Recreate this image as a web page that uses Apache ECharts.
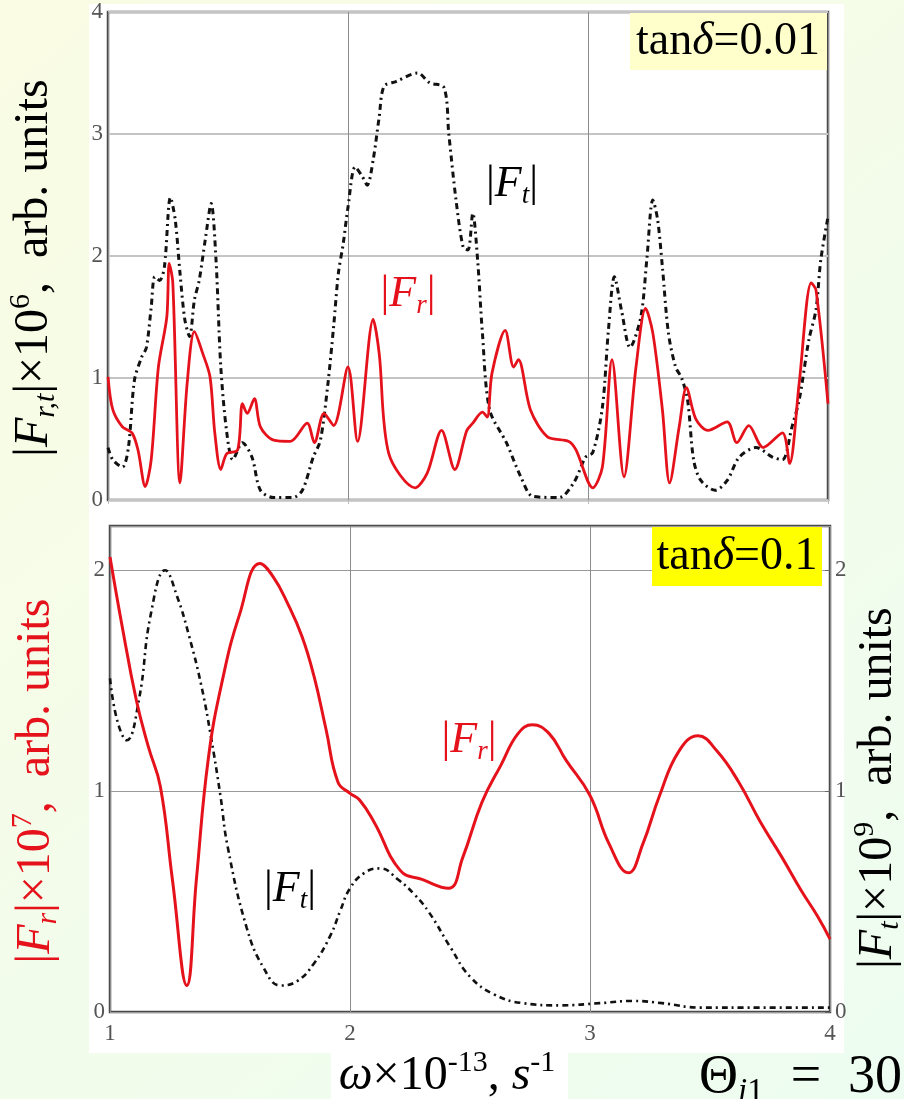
<!DOCTYPE html>
<html>
<head>
<meta charset="utf-8">
<script src="https://cdn.jsdelivr.net/npm/echarts@6/dist/echarts.min.js"></script>
<style>
  html, body { margin: 0; padding: 0; }
  #chart { width: 904px; height: 1099px; }
</style>
</head>
<body>
<div id="chart"></div>
<script>
// Frequency axis: omega x 10^-13, s^-1
const omegaRange = [1, 4];
const omegaTicks = [1, 2, 3, 4];
const topTicks = [0, 1, 2, 3, 4];
const bottomTicks = [0, 1, 2];

// tan(delta) = 0.01 : |F_r| (red) and |F_t| (black), both x 10^6
const frLowX = [1.0,1.02,1.06,1.1,1.125,1.155,1.18,1.21,1.245,1.255,1.27,1.3,1.33,1.36,1.395,1.425,1.445,1.47,1.495,1.54,1.56,1.58,1.61,1.635,1.69,1.76,1.83,1.86,1.9,1.94,2.0,2.04,2.105,2.13,2.17,2.28,2.33,2.39,2.445,2.495,2.52,2.56,2.58,2.6,2.655,2.69,2.71,2.76,2.83,2.92,2.95,3.02,3.06,3.1,3.15,3.2,3.24,3.27,3.31,3.34,3.38,3.41,3.45,3.5,3.58,3.62,3.67,3.73,3.81,3.84,3.88,3.93,3.95,4.0];
const frLowY = [1.01,0.74,0.6,0.55,0.41,0.11,0.33,1.09,1.5,1.94,1.78,0.14,0.96,1.38,1.2,1.01,0.55,0.25,0.38,0.41,0.79,0.71,0.83,0.6,0.49,0.48,0.63,0.47,0.71,0.61,1.09,0.48,1.48,1.2,0.38,0.1,0.22,0.57,0.25,0.57,0.63,0.72,0.68,1.04,1.39,1.09,1.15,0.74,0.52,0.48,0.41,0.1,0.27,1.15,0.19,1.09,1.57,1.37,0.74,0.14,0.6,0.92,0.66,0.57,0.64,0.47,0.61,0.43,0.55,0.3,0.96,1.78,1.72,0.79];

const ftLowX = [1.0,1.02,1.06,1.085,1.11,1.14,1.16,1.18,1.195,1.215,1.235,1.26,1.28,1.3,1.32,1.34,1.36,1.38,1.405,1.43,1.45,1.47,1.495,1.52,1.56,1.6,1.635,1.69,1.77,1.81,1.855,1.885,1.915,1.94,1.96,1.98,2.0,2.03,2.06,2.08,2.105,2.13,2.15,2.2,2.29,2.34,2.4,2.42,2.45,2.48,2.5,2.52,2.54,2.56,2.59,2.66,2.72,2.77,2.88,2.94,2.99,3.02,3.06,3.085,3.11,3.14,3.175,3.22,3.245,3.27,3.29,3.31,3.335,3.365,3.39,3.415,3.44,3.47,3.53,3.58,3.63,3.7,3.77,3.81,3.85,3.88,3.92,3.95,3.97,4.0];
const ftLowY = [0.43,0.33,0.27,0.43,0.98,1.17,1.25,1.58,1.83,1.8,1.91,2.48,2.3,1.86,1.48,1.34,1.64,1.8,2.13,2.43,1.97,1.09,0.55,0.33,0.47,0.35,0.08,0.02,0.02,0.08,0.35,0.49,0.93,1.42,1.86,2.1,2.4,2.73,2.65,2.58,2.79,3.14,3.39,3.43,3.5,3.42,3.38,3.0,2.46,2.07,2.05,2.35,1.97,1.37,0.74,0.47,0.19,0.03,0.02,0.14,0.35,0.39,0.76,1.39,1.83,1.55,1.25,1.5,1.97,2.46,2.3,1.91,1.37,1.09,1.0,0.82,0.33,0.16,0.08,0.16,0.35,0.43,0.35,0.33,0.6,0.82,1.31,1.56,1.97,2.32];

// tan(delta) = 0.1 : |F_r| x 10^7 (left axis), |F_t| x 10^9 (right axis)
const frHighX = [1.0,1.05,1.11,1.16,1.21,1.26,1.32,1.36,1.41,1.47,1.54,1.625,1.68,1.74,1.8,1.85,1.9,1.95,2.0,2.04,2.1,2.21,2.3,2.41,2.47,2.55,2.63,2.7,2.76,2.83,2.9,3.0,3.08,3.16,3.22,3.29,3.37,3.45,3.53,3.62,3.71,3.8,3.88,3.95,4.0];
const frHighY = [2.06,1.75,1.41,1.2,1.02,0.6,0.12,0.6,1.15,1.51,1.8,2.03,1.97,1.85,1.7,1.52,1.28,1.04,0.99,0.96,0.86,0.64,0.6,0.56,0.7,0.95,1.12,1.26,1.3,1.26,1.14,0.98,0.76,0.63,0.76,0.98,1.18,1.25,1.18,1.04,0.86,0.7,0.55,0.43,0.33];

const ftHighX = [1.0,1.03,1.07,1.12,1.17,1.23,1.28,1.33,1.38,1.42,1.46,1.49,1.57,1.64,1.71,1.78,1.85,1.92,1.96,2.0,2.06,2.125,2.2,2.27,2.33,2.42,2.5,2.6,2.72,2.88,3.04,3.18,3.3,3.46,3.7,4.0];
const ftHighY = [1.51,1.32,1.23,1.41,1.8,2.0,1.88,1.7,1.48,1.25,0.98,0.75,0.38,0.2,0.12,0.14,0.22,0.35,0.46,0.56,0.63,0.65,0.6,0.53,0.45,0.29,0.16,0.08,0.04,0.03,0.04,0.05,0.04,0.02,0.02,0.02];

const pairs = (xs, ys) => xs.map((x, i) => [x, ys[i]]);

const SERIF = 'Liberation Serif';
const RED = '#e5121c';
const INK = '#111111';

// rich-text styles: b = upright, i = italic, s = italic subscript, p = superscript, u = upright subscript
function richSet(size, color) {
  const small = Math.round(size * 0.62);
  return {
    b: { fontFamily: SERIF, fontSize: size, color: color, lineHeight: Math.round(size * 1.15) },
    i: { fontFamily: SERIF, fontSize: size, color: color, fontStyle: 'italic', lineHeight: Math.round(size * 1.15) },
    s: { fontFamily: SERIF, fontSize: small, color: color, fontStyle: 'italic', lineHeight: small, verticalAlign: 'bottom' },
    u: { fontFamily: SERIF, fontSize: small, color: color, lineHeight: small, verticalAlign: 'bottom' },
    p: { fontFamily: SERIF, fontSize: small, color: color, lineHeight: small, verticalAlign: 'top' }
  };
}

function label(text, x, y, size, color, opts, align) {
  const a = align || 'center';
  return Object.assign({
    type: 'text', x: x, y: y, z: 50,
    style: {
      text: text, rich: richSet(size, color), fill: color,
      font: size + 'px "' + SERIF + '"',
      align: a, verticalAlign: 'middle',
      textAlign: a, textVerticalAlign: 'middle'
    }
  }, opts || {});
}

// axis tick labels
function tickLabel(margin, list, extra) {
  return Object.assign({
    margin: margin,
    fontFamily: SERIF,
    fontSize: 23,
    color: '#555555',
    formatter: v => (list.includes(v) ? String(v) : '')
  }, extra || {});
}

const chart = echarts.init(document.getElementById('chart'), null, { renderer: 'canvas' });

chart.setOption({
  animation: false,
  backgroundColor: {
    type: 'linear', x: 0, y: 0, x2: 1, y2: 1,
    colorStops: [{ offset: 0, color: '#fafce3' }, { offset: 1, color: '#edfdf1' }]
  },
  grid: [
    { left: 108, top: 12, width: 720, height: 488, show: true, backgroundColor: '#ffffff', borderColor: '#4a4a4a', borderWidth: 2.5 },
    { left: 110, top: 526, width: 720, height: 486, show: true, backgroundColor: '#ffffff', borderColor: '#4a4a4a', borderWidth: 2.5 }
  ],
  xAxis: [
    {
      gridIndex: 0, type: 'value', min: omegaRange[0], max: omegaRange[1], interval: 1,
      axisLine: { show: false },
      axisTick: { show: true, length: 4, lineStyle: { color: '#bbbbbb' } },
      axisLabel: { show: false },
      splitLine: { show: true, lineStyle: { color: '#8c8c8c', width: 1 } }
    },
    {
      gridIndex: 1, type: 'value', min: omegaRange[0], max: omegaRange[1], interval: 1,
      axisLine: { show: false }, axisTick: { show: false },
      axisLabel: tickLabel(10, omegaTicks),
      splitLine: { show: true, lineStyle: { color: '#8c8c8c', width: 1 } }
    }
  ],
  yAxis: [
    {
      gridIndex: 0, type: 'value', min: topTicks[0], max: topTicks[topTicks.length - 1], interval: 1,
      axisLine: { show: false }, axisTick: { show: false },
      axisLabel: tickLabel(5, topTicks),
      splitLine: { show: true, lineStyle: { color: '#c4c4c4', width: 2 } }
    },
    {
      gridIndex: 1, type: 'value', min: bottomTicks[0], max: 2.2, interval: 1,
      axisLine: { show: false }, axisTick: { show: false },
      axisLabel: tickLabel(5, bottomTicks, { showMaxLabel: false }),
      splitLine: { show: true, lineStyle: { color: '#9a9a9a', width: 1 } }
    },
    {
      gridIndex: 1, type: 'value', position: 'right', min: bottomTicks[0], max: 2.2, interval: 1,
      axisLine: { show: false },
      axisTick: { show: true, inside: true, length: 5, lineStyle: { color: '#666' } },
      axisLabel: tickLabel(5, bottomTicks, { showMaxLabel: false }),
      splitLine: { show: false }
    }
  ],
  series: [
    {
      type: 'line', xAxisIndex: 0, yAxisIndex: 0, data: pairs(ftLowX, ftLowY),
      showSymbol: false, smooth: 0.3, z: 3,
      lineStyle: { color: INK, width: 3, type: [6, 4, 2, 4] }
    },
    {
      type: 'line', xAxisIndex: 0, yAxisIndex: 0, data: pairs(frLowX, frLowY),
      showSymbol: false, smooth: 0.3, z: 4,
      lineStyle: { color: RED, width: 2.8 }
    },
    {
      type: 'line', xAxisIndex: 1, yAxisIndex: 2, data: pairs(ftHighX, ftHighY),
      showSymbol: false, smooth: 0.45, z: 3,
      lineStyle: { color: INK, width: 2.6, type: [6, 4, 2, 4] }
    },
    {
      type: 'line', xAxisIndex: 1, yAxisIndex: 1, data: pairs(frHighX, frHighY),
      showSymbol: false, smooth: 0.45, z: 4,
      lineStyle: { color: RED, width: 3 }
    }
  ],
  graphic: [
    // white figure sheet behind both panels
    { type: 'rect', z: -10, shape: { x: 89, y: 4, width: 755, height: 1049 }, style: { fill: '#ffffff' } },
    { type: 'rect', z: -10, shape: { x: 331, y: 1053, width: 237, height: 46 }, style: { fill: '#ffffff' } },

    // parameter tags
    { type: 'rect', z: 40, shape: { x: 630, y: 13, width: 197, height: 57 }, style: { fill: '#ffffcc' } },
    label('{b|tan}{i|δ}{b|=0.01}', 728, 42, 46, '#000000'),
    { type: 'rect', z: 40, shape: { x: 652, y: 527, width: 170, height: 59 }, style: { fill: '#ffff00' } },
    label('{b|tan}{i|δ}{b|=0.1}', 737, 557, 46, '#000000'),

    // curve names
    label('{b||}{i|F}{s|t}{b||}', 512, 184, 44, '#000000'),
    label('{b||}{i|F}{s|r}{b||}', 408, 294, 44, RED),
    label('{b||}{i|F}{s|t}{b||}', 290, 889, 44, '#000000'),
    label('{b||}{i|F}{s|r}{b||}', 469, 740, 44, RED),

    // axis titles
    label('{b||}{i|F}{s|r,t}{b||×10}{p|6}{b|,  arb. units}', 34, 268, 48, '#000000', { rotation: Math.PI / 2 }),
    label('{b||}{i|F}{s|r}{b||×10}{p|7}{b|,  arb. units}', 36, 781, 48, RED, { rotation: Math.PI / 2 }),
    label('{b||}{i|F}{s|t}{b||×10}{p|9}{b|,  arb. units}', 878, 788, 48, '#000000', { rotation: Math.PI / 2 }),
    label('{i|ω}{b|×10}{p|-13}{b|, }{i|s}{p|-1}', 447, 1076, 48, '#000000'),
    label('{b|Θ}{s|i}{u|1}{b|  =  30}', 699, 1078, 54, '#000000', null, 'left')
  ]
});
</script>
</body>
</html>
